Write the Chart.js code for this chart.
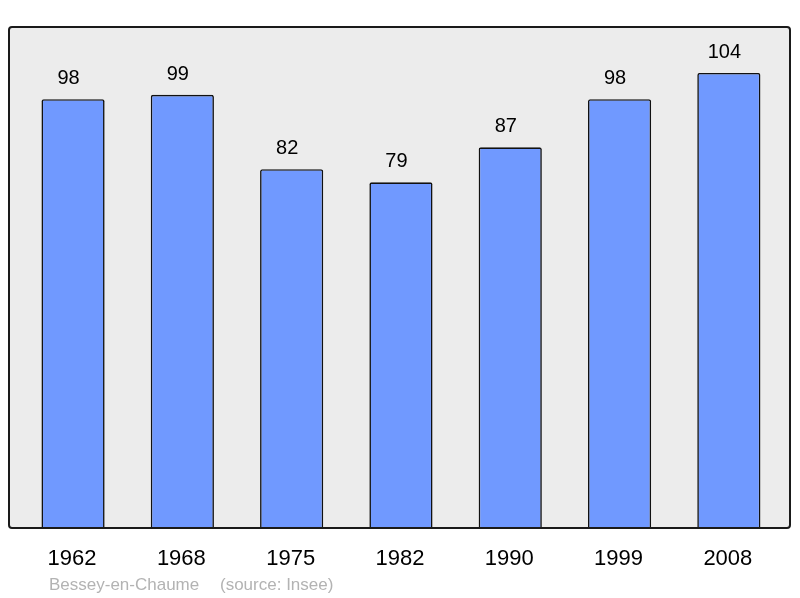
<!DOCTYPE html>
<html><head><meta charset="utf-8">
<script src="https://cdn.jsdelivr.net/npm/chart.js@4/dist/chart.umd.min.js"></script>
<style>html,body{margin:0;padding:0;background:#fff}#wrap{width:800px;height:598px}</style>
</head><body><div id="wrap"><canvas id="c" width="800" height="598"></canvas></div>
<script>
const years = ['1962','1968','1975','1982','1990','1999','2008'];
const population = [98, 99, 82, 79, 87, 98, 104];
const footerPlace = 'Bessey-en-Chaume';
const footerSource = '(source: Insee)';

function framePath(ctx) {
  const x0 = 9, y0 = 27, x1 = 790, y1 = 528, r = 3;
  ctx.beginPath();
  ctx.moveTo(x0 + r, y0);
  ctx.lineTo(x1 - r, y0); ctx.quadraticCurveTo(x1, y0, x1, y0 + r);
  ctx.lineTo(x1, y1 - r); ctx.quadraticCurveTo(x1, y1, x1 - r, y1);
  ctx.lineTo(x0 + r, y1); ctx.quadraticCurveTo(x0, y1, x0, y1 - r);
  ctx.lineTo(x0, y0 + r); ctx.quadraticCurveTo(x0, y0, x0 + r, y0);
  ctx.closePath();
}

const framePlugin = {
  id: 'frame',
  beforeDraw(chart) {
    const ctx = chart.ctx;
    ctx.save();
    framePath(ctx);
    ctx.fillStyle = '#ececec';
    ctx.fill();
    ctx.restore();
  },
  afterDraw(chart) {
    const ctx = chart.ctx;
    ctx.save();
    framePath(ctx);
    ctx.lineWidth = 2;
    ctx.strokeStyle = '#1a1a1a';
    ctx.stroke();

    const meta = chart.getDatasetMeta(0);
    const xs = chart.scales.x;
    ctx.fillStyle = '#000';
    ctx.textAlign = 'center';
    ctx.textBaseline = 'alphabetic';
    ctx.font = '20px "Liberation Sans", Arial, sans-serif';
    meta.data.forEach((bar, i) => {
      ctx.fillText(String(population[i]), bar.x - 4.5, bar.y - 15);
    });
    ctx.font = '22px "Liberation Sans", Arial, sans-serif';
    years.forEach((y, i) => {
      ctx.fillText(y, xs.getPixelForValue(i) - 1, 565);
    });
    ctx.textAlign = 'left';
    ctx.fillStyle = '#b3b3b3';
    ctx.font = '17px "Liberation Sans", Arial, sans-serif';
    ctx.fillText(footerPlace, 49, 590);
    ctx.fillText(footerSource, 220, 590);
    ctx.restore();
  }
};

new Chart(document.getElementById('c'), {
  type: 'bar',
  data: {
    labels: years,
    datasets: [{
      data: population,
      backgroundColor: '#7099ff',
      borderColor: '#111',
      borderWidth: 1.6,
      borderRadius: 2,
      borderSkipped: 'bottom',
      barPercentage: 0.578,
      categoryPercentage: 1
    }]
  },
  options: {
    responsive: false,
    animation: false,
    devicePixelRatio: 1,
    layout: { padding: { left: 18.4, right: 16.5, top: 27, bottom: 70 } },
    plugins: { legend: { display: false }, tooltip: { enabled: false } },
    scales: {
      x: { display: false, offset: true },
      y: { display: false, min: 0, max: 114.5 }
    }
  },
  plugins: [framePlugin]
});
</script></body></html>
